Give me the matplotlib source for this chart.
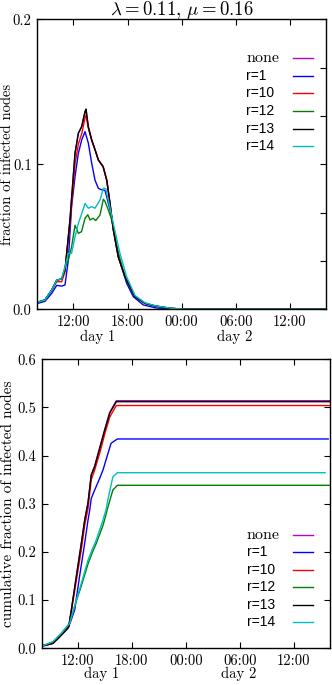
#
# imports
import matplotlib
matplotlib.use("Agg")
import matplotlib.pyplot as plt
from matplotlib.ticker import FixedLocator, FuncFormatter
import matplotlib.transforms as mtransforms
#
# Fraction of infected nodes vs time, lambda=0.11, mu=0.16
# hours are counted from 00:00 of day 1
#################################################################
labels = ['none', 'r=1', 'r=10', 'r=12', 'r=13', 'r=14']
colors = ['m', 'b', 'r', 'g', 'k', 'c']

# --- top panel: fraction of infected nodes
h_none = [8.0, 8.85, 9.6, 10.15, 10.7, 11.07, 11.62, 12.18, 12.55, 12.92, 13.29, 13.4, 13.65,
          14.03, 14.4, 14.77, 15.3, 15.7, 16.06, 16.43, 16.98, 17.72, 18.83, 19.94, 21.05, 22.7, 24.5, 40.0]
v_none = [0.0048, 0.0064, 0.0133, 0.020, 0.021, 0.027, 0.0616, 0.1076, 0.1214, 0.126, 0.1363, 0.138, 0.126,
          0.1168, 0.110, 0.103, 0.0983, 0.089, 0.073, 0.0547, 0.036, 0.0225, 0.0087, 0.0041, 0.0023, 0.0007, 0.0, 0.0]
h_r1 = [8.0, 8.85, 9.6, 10.15, 10.7, 11.07, 11.44, 11.62, 11.8, 12.18, 12.55, 12.92, 13.29, 13.66,
        14.03, 14.4, 14.77, 15.1, 15.5, 15.69, 16.24, 16.8, 17.35, 17.9, 18.64, 19.75, 21.2, 24.0, 40.0]
v_r1 = [0.004, 0.0055, 0.011, 0.0165, 0.016, 0.0168, 0.034, 0.0524, 0.0708, 0.0914, 0.1076, 0.1168, 0.1225, 0.1145,
        0.1007, 0.089, 0.0834, 0.0825, 0.082, 0.0777, 0.064, 0.043, 0.029, 0.018, 0.0087, 0.003, 0.0009, 0.0, 0.0]
h_r10 = [8.0, 8.85, 9.6, 10.15, 10.7, 11.07, 11.62, 12.18, 12.55, 12.92, 13.29, 13.4, 13.65,
         14.03, 14.4, 14.77, 15.3, 15.7, 16.06, 16.43, 16.98, 17.72, 18.83, 19.94, 21.05, 22.7, 24.5, 40.0]
v_r10 = [0.0048, 0.0064, 0.0133, 0.019, 0.019, 0.026, 0.059, 0.100, 0.114, 0.121, 0.132, 0.134, 0.125,
         0.1165, 0.110, 0.103, 0.0983, 0.089, 0.073, 0.0547, 0.036, 0.0225, 0.0087, 0.0041, 0.0023, 0.0007, 0.0, 0.0]
h_r12 = [8.0, 8.85, 9.6, 10.15, 10.7, 11.07, 11.44, 11.8, 12.18, 12.55, 12.9, 13.29, 13.6, 13.84,
         14.2, 14.47, 14.95, 15.32, 15.5, 15.9, 16.25, 16.6, 16.98, 17.72, 18.83, 19.94, 21.05, 22.7, 24.5, 40.0]
v_r12 = [0.0048, 0.0064, 0.0133, 0.020, 0.021, 0.029, 0.034, 0.043, 0.058, 0.0524, 0.0535, 0.0628, 0.0652, 0.0616,
         0.0628, 0.0612, 0.065, 0.0759, 0.0745, 0.068, 0.0616, 0.050, 0.0386, 0.0225, 0.0087, 0.0041, 0.0023, 0.0007, 0.0, 0.0]
h_r13 = [8.0, 8.85, 9.6, 10.15, 10.7, 11.07, 11.62, 12.18, 12.55, 12.92, 13.29, 13.4, 13.65,
         14.03, 14.4, 14.77, 15.3, 15.7, 16.06, 16.43, 16.98, 17.72, 18.83, 19.94, 21.05, 22.7, 24.5, 40.0]
v_r13 = [0.0048, 0.0064, 0.0133, 0.020, 0.021, 0.027, 0.0616, 0.1076, 0.1214, 0.126, 0.1363, 0.138, 0.126,
         0.1168, 0.110, 0.103, 0.0983, 0.089, 0.073, 0.0547, 0.036, 0.0225, 0.0087, 0.0041, 0.0023, 0.0007, 0.0, 0.0]
h_r14 = [8.0, 8.85, 9.6, 10.15, 10.7, 11.07, 11.44, 11.8, 12.18, 12.55, 12.92, 13.29, 13.66, 14.03,
         14.4, 14.95, 15.32, 15.58, 15.87, 16.43, 17.16, 17.9, 18.83, 19.94, 21.05, 22.7, 24.5, 40.0]
v_r14 = [0.0048, 0.0064, 0.0133, 0.020, 0.021, 0.029, 0.0386, 0.0386, 0.050, 0.0593, 0.066, 0.073, 0.0697, 0.0708,
         0.0697, 0.0754, 0.0834, 0.0834, 0.0754, 0.059, 0.0386, 0.0225, 0.0095, 0.0045, 0.0025, 0.0008, 0.0, 0.0]

# --- bottom panel: cumulative fraction of infected nodes
c_h_none = [8.0, 8.5, 9.25, 9.85, 10.18, 10.6, 11.0, 11.29, 11.84, 12.4, 12.77, 13.14, 13.5, 13.88, 14.44, 15.0, 15.55, 16.28, 40.0]
c_v_none = [0.005, 0.007, 0.0104, 0.021, 0.0276, 0.036, 0.045, 0.0795, 0.1487, 0.218, 0.266, 0.302, 0.36, 0.379, 0.417, 0.455, 0.49, 0.514, 0.514]
c_h_r1 = [8.0, 8.5, 9.25, 9.8, 10.55, 10.92, 11.2, 11.66, 12.2, 12.77, 13.14, 13.33, 13.5, 13.88, 14.44, 14.8, 15.36, 15.7, 16.4, 39.8]
c_v_r1 = [0.005, 0.006, 0.0104, 0.0207, 0.0345, 0.0415, 0.055, 0.0795, 0.149, 0.218, 0.266, 0.287, 0.311, 0.3286, 0.353, 0.37, 0.405, 0.4256, 0.4346, 0.4346]
c_h_r10 = [8.0, 8.5, 9.25, 9.85, 10.18, 10.6, 11.0, 11.29, 11.84, 12.4, 12.77, 13.14, 13.5, 13.88, 14.44, 15.0, 15.55, 16.28, 40.0]
c_v_r10 = [0.005, 0.007, 0.0104, 0.021, 0.0276, 0.036, 0.045, 0.076, 0.140, 0.205, 0.255, 0.29, 0.35, 0.37, 0.405, 0.445, 0.48, 0.504, 0.504]
c_h_r12 = [8.0, 8.5, 9.25, 10.18, 11.1, 11.84, 12.4, 13.14, 13.6, 14.06, 14.8, 15.17, 15.36, 15.9, 16.4, 40.0]
c_v_r12 = [0.005, 0.008, 0.0135, 0.031, 0.052, 0.098, 0.130, 0.175, 0.198, 0.218, 0.255, 0.28, 0.294, 0.3286, 0.3384, 0.3384]
c_h_r13 = [8.0, 8.5, 9.25, 9.85, 10.18, 10.6, 11.0, 11.29, 11.84, 12.4, 12.77, 13.14, 13.5, 13.88, 14.44, 15.0, 15.55, 16.28, 40.0]
c_v_r13 = [0.005, 0.007, 0.0104, 0.021, 0.0276, 0.036, 0.045, 0.0795, 0.1487, 0.218, 0.266, 0.302, 0.36, 0.377, 0.415, 0.453, 0.488, 0.512, 0.512]
c_h_r14 = [8.0, 8.5, 9.25, 10.18, 11.1, 11.84, 12.4, 13.14, 13.6, 14.06, 14.8, 15.17, 15.36, 15.9, 16.4, 39.45]
c_v_r14 = [0.005, 0.008, 0.0135, 0.031, 0.052, 0.100, 0.135, 0.183, 0.205, 0.225, 0.266, 0.29, 0.31, 0.356, 0.3646, 0.3646]

top_h = [h_none, h_r1, h_r10, h_r12, h_r13, h_r14]
top_v = [v_none, v_r1, v_r10, v_r12, v_r13, v_r14]
bot_h = [c_h_none, c_h_r1, c_h_r10, c_h_r12, c_h_r13, c_h_r14]
bot_v = [c_v_none, c_v_r1, c_v_r10, c_v_r12, c_v_r13, c_v_r14]

xticks = [12, 18, 24, 30, 36]
xticklabels = ['12:00', '18:00', '00:00', '06:00', '12:00']
day_pos = [14.7, 29.9]
day_labels = ['day 1', 'day 2']
#################################################################
plt.rcParams['font.family'] = ['cmr10']
plt.rcParams['mathtext.fontset'] = 'cm'
plt.rcParams['axes.formatter.use_mathtext'] = True
plt.rcParams['font.size'] = 10.5

W, H = 332.0, 685.0
fig = plt.figure(figsize=(W/100, H/100), dpi=100)
ax1 = fig.add_axes([37.3/W, 1-309.3/H, (326-37.3)/W, (309.3-19.3)/H])
ax2 = fig.add_axes([41.7/W, 1-648.3/H, (330-41.7)/W, (648.3-359.3)/H])

def setup(ax, ymax, ylabel, lx, dayy, lsize):
    ax.set_xlim(8, 40)
    ax.set_ylim(0, ymax)
    ax.set_xticks(xticks)
    ax.set_xticklabels(xticklabels)
    ax.tick_params(direction='in', top=True, right=True, length=4, width=0.8, pad=4)
    ax.set_ylabel(ylabel, fontsize=lsize)
    ax.yaxis.set_label_coords(lx, 0.5)
    tr = mtransforms.blended_transform_factory(ax.transData, ax.transAxes)
    for p, t in zip(day_pos, day_labels):
        ax.text(p, dayy, t, transform=tr, ha='center', va='center', fontsize=10.5)
    for s in ax.spines.values():
        s.set_linewidth(1.0)

def legend(ax, tx, hx0, hx1, y0, dy):
    # text left aligned, short line sample on the right (as in the original)
    for i, (c, l) in enumerate(zip(colors, labels)):
        y = y0 - i*dy
        if l == 'none':
            ax.text(tx, y, l, transform=ax.transAxes, ha='left', va='center', fontsize=11.5)
        else:
            ax.text(tx, y, l, transform=ax.transAxes, ha='left', va='center', fontsize=10,
                    family=['Liberation Sans', 'DejaVu Sans'])
        ax.plot([hx0, hx1], [y, y], color=c, lw=1.0, transform=ax.transAxes)

# top
for hh, vv, c, l in zip(top_h, top_v, colors, labels):
    ax1.plot(hh, vv, color=c, lw=1.0, label=l)
setup(ax1, 0.2, 'fraction of infected nodes', -0.08, -0.095, 10.5)
ax1.set_yticks([0.0, 0.1, 0.2])
ax1.yaxis.set_major_formatter(FuncFormatter(lambda v, p: '%.1f' % v))
ax1.yaxis.set_minor_locator(FixedLocator([0.2/6, 0.4/6, 0.8/6, 1.0/6]))
ax1.tick_params(which='minor', direction='in', left=False, right=True, bottom=False, top=False, length=4, width=0.8)
ax1.set_title(r'$\lambda = 0.11$, $\mu = 0.16$', fontsize=13.5, pad=3)
legend(ax1, 0.723, 0.886, 0.955, 0.866, 0.0607)

# bottom
for hh, vv, c, l in zip(bot_h, bot_v, colors, labels):
    ax2.plot(hh, vv, color=c, lw=1.0, label=l)
setup(ax2, 0.6, 'cumulative fraction of infected nodes', -0.093, -0.089, 11)
ax2.set_yticks([0.0, 0.1, 0.2, 0.3, 0.4, 0.5, 0.6])
ax2.yaxis.set_major_formatter(FuncFormatter(lambda v, p: '%.1f' % v))
legend(ax2, 0.712, 0.872, 0.941, 0.392, 0.0602)

fig.savefig('out.png', dpi=100)
